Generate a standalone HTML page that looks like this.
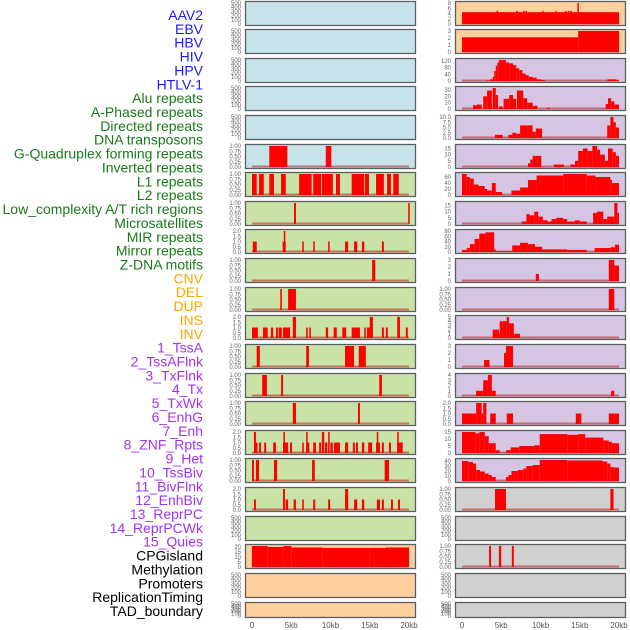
<!DOCTYPE html>
<html><head><meta charset="utf-8">
<style>
html,body{margin:0;padding:0;background:#fff;}
#wrap{position:relative;width:630px;height:630px;overflow:hidden;font-family:"Liberation Sans",sans-serif;}
svg{position:absolute;left:0;top:0;}
</style></head>
<body>
<div id="wrap">
<svg id="chart" width="630" height="630" xmlns="http://www.w3.org/2000/svg"></svg>
</div>
<script>
// ---- data ----
const trackLabels = ["AAV2","EBV","HBV","HIV","HPV","HTLV-1","Alu repeats","A-Phased repeats","Directed repeats","DNA transposons","G-Quadruplex forming repeats","Inverted repeats","L1 repeats","L2 repeats","Low_complexity A/T rich regions","Microsatellites","MIR repeats","Mirror repeats","Z-DNA motifs","CNV","DEL","DUP","INS","INV","1_TssA","2_TssAFlnk","3_TxFlnk","4_Tx","5_TxWk","6_EnhG","7_Enh","8_ZNF_Rpts","9_Het","10_TssBiv","11_BivFlnk","12_EnhBiv","13_ReprPC","14_ReprPCWk","15_Quies","CPGisland","Methylation","Promoters","ReplicationTiming","TAD_boundary"];
const labelColors = ["#1a1aff","#1a1aff","#1a1aff","#1a1aff","#1a1aff","#1a1aff","#1a7a1a","#1a7a1a","#1a7a1a","#1a7a1a","#1a7a1a","#1a7a1a","#1a7a1a","#1a7a1a","#1a7a1a","#1a7a1a","#1a7a1a","#1a7a1a","#1a7a1a","#ffa500","#ffa500","#ffa500","#ffa500","#ffa500","#a033f0","#a033f0","#a033f0","#a033f0","#a033f0","#a033f0","#a033f0","#a033f0","#a033f0","#a033f0","#a033f0","#a033f0","#a033f0","#a033f0","#a033f0","#000","#000","#000","#000","#000"];
const xTicks = [0,5,10,15,20];
const xTickLabels = ["0","5kb","10kb","15kb","20kb"];
const T500 = [0,100,200,300,400,500];
const T1 = [0,0.25,0.5,0.75,1];
const T2 = [0,0.5,1,1.5,2];
const leftTicks = [T500,T500,T500,T500,T500,T1,T1,T1,T2,T1,T1,T2,T1,T1,T1,T2,T1,T2,T500,[0,5,10,15,20],T500,T500];
const rightTicks = [[0,2,4,6,8],[0,1,2,3],[0,40,80,120],[0,10,20,30],[0,2.5,5,7.5,10],[0,5,10,15],[0,20,40,60],[0,5,10,15],[0,20,40,60,80],[0,1,2,3],T1,[0,1,2,3,4,5],[0,1,2,3],[0,1,2,3,4],T2,[0,5,10,15],[0,10,20,30,40],T1,T500,T1,T500,T500];
const leftBg = ["#c6e3ea","#c6e3ea","#c6e3ea","#c6e3ea","#c6e3ea","#c6e3ea","#c9e2a6","#c9e2a6","#c9e2a6","#c9e2a6","#c9e2a6","#c9e2a6","#c9e2a6","#c9e2a6","#c9e2a6","#c9e2a6","#c9e2a6","#c9e2a6","#c9e2a6","#ffcf9e","#ffcf9e","#ffcf9e"];
const rightBg = ["#ffcf9e","#ffcf9e","#d5c5e2","#d5c5e2","#d5c5e2","#d5c5e2","#d5c5e2","#d5c5e2","#d5c5e2","#d5c5e2","#d5c5e2","#d5c5e2","#d5c5e2","#d5c5e2","#d5c5e2","#d5c5e2","#d5c5e2","#d0d0d0","#d0d0d0","#d0d0d0","#d0d0d0","#d0d0d0"];
// intervals: [startKb, endKb, value]
const leftData = [
 [],[],[],[],[],
 [[2.2,4.5,1],[9.4,10.1,1]],
 [[0,0.6,1],[0.9,1.5,1],[2.2,2.8,1],[3.7,4.3,1],[6,7.6,1],[7.8,8.8,1],[8.9,10.3,1],[10.7,11.2,1],[12.7,14.3,1],[14.4,14.9,1],[15.8,16.8,1],[17.2,17.7,1],[18,18.7,1]],
 [[5.35,5.6,1],[19.9,20.1,1]],
 [[0.1,0.6,1],[3.9,4.3,1],[4.05,4.15,2],[6.4,6.6,1],[7.8,8.0,1],[9.7,9.9,1],[11.85,12.25,1],[13,13.4,1],[14,14.3,1],[16.55,16.8,1]],
 [[15.3,15.7,1]],
 [[3.6,3.8,1],[4.6,5.6,1]],
 [[0,0.75,1],[1.4,2.0,1],[2.4,2.7,1],[3.05,3.3,1],[3.4,3.8,1],[3.95,4.85,1],[5.2,5.6,2],[6.9,7.1,1],[7.3,7.5,1],[9.4,9.7,1],[10.4,10.8,1],[11.5,12.0,1],[12.7,13.75,1],[14.3,14.5,1],[14.65,15.4,1],[15.0,15.4,2],[16.55,16.8,1],[17.05,17.3,1],[18.5,18.85,2],[19.6,19.85,1]],
 [[0.6,1.0,1],[6.9,7.25,1],[11.85,13.0,1],[13.6,14.5,1]],
 [[1.3,1.9,1],[3.7,3.95,1],[16.2,16.55,1]],
 [[5.2,5.6,1],[13.5,13.75,1]],
 [[0.25,0.7,1],[0.25,0.5,2],[0.9,1.15,1],[1.55,1.8,1],[2.7,3.05,1],[3.95,4.6,1],[4.0,4.1,2],[4.85,5.1,1],[6.4,6.6,1],[6.9,7.3,1],[6.9,7.0,2],[7.8,8.15,1],[8.55,8.8,1],[8.9,9.2,2],[9.3,9.6,1],[9.7,9.9,2],[10.0,10.3,1],[10.45,11.2,1],[11.85,12.25,1],[12.85,13.1,1],[13.25,13.5,1],[14.0,14.3,1],[14.8,15.3,1],[15.8,16.3,1],[15.9,16.0,2],[16.55,16.8,1],[17.45,17.7,1],[18.5,19.2,1],[18.5,18.7,2]],
 [[0,0.25,1],[0.5,0.9,1],[2.8,3.2,1],[7.65,8.0,1],[16.9,17.45,1]],
 [[0.25,0.5,1],[3.95,4.2,2],[4.3,4.6,1],[5.3,5.6,1],[6.4,6.6,1],[7.8,8.05,1],[9.7,9.95,1],[11.85,12.25,2],[13,13.4,1],[14,14.3,1],[15.9,16.3,1],[16.55,16.8,1],[17.7,17.95,1],[18.6,18.85,1]],
 [],
 [[0,2,21],[2,4,20],[4,5,21],[5,9,19.5],[9,15,19],[15,17,19],[17,20,19.5]],
 [],[]
];
const rightData = [
 [[0,20,4.5],[4.4,4.55,5],[6.9,7.05,5],[7.8,7.95,5],[8.1,8.25,5],[10.2,10.35,5],[11.9,12.05,5],[13.1,13.25,5],[13.5,13.65,5],[13.8,13.95,5],[14.7,14.85,8]],
 [[0,14.8,2.1],[14.8,20,3]],
 [[3.1,3.6,3],[3.6,3.9,10],[3.9,4.1,25],[4.1,4.3,60],[4.3,4.5,90],[4.5,4.7,110],[4.7,5.6,125],[5.6,6.0,110],[6.0,6.5,105],[6.5,6.9,95],[6.9,7.3,75],[7.3,7.7,65],[7.7,8.1,45],[8.1,8.5,35],[8.5,9,25],[9,9.5,20],[9.5,10.1,10],[10.1,10.6,5],[18.5,19.0,10],[19.0,19.6,10],[19.6,20,5]],
 [[1.4,1.9,6],[1.9,2.5,7],[2.7,3.2,20],[3.2,3.8,29],[3.9,4.3,33],[4.3,4.6,22],[4.7,5.2,4],[5.3,6.0,16],[6.0,6.5,22],[6.5,6.9,16],[7.0,7.8,29],[7.8,8.3,17],[8.3,9.0,10],[9.0,9.6,5],[10.8,11.2,2],[18.3,18.6,8],[18.6,19.0,17],[19.0,19.4,12],[19.4,20,7]],
 [[4.2,5.2,1.5],[5.9,6.4,1.5],[6.4,6.9,2.5],[6.9,7.4,2],[7.4,8.4,6],[8.4,9.0,6],[9.0,9.4,3],[9.4,10.2,4.5],[18.5,18.9,6],[18.9,19.3,10],[19.3,19.6,7.5],[19.6,20,5]],
 [[8.4,8.7,3],[8.7,9.0,6],[9.0,10.1,9],[11.7,13,2],[13.8,14.4,2],[14.4,14.8,5],[14.8,15.4,13],[15.4,16.0,15],[16.0,16.6,13],[16.6,17.2,17],[17.2,17.6,14],[17.6,18.2,10],[18.2,18.6,5],[18.6,19.2,15],[19.2,19.6,12],[19.6,20,9]],
 [[0,0.6,70],[0.6,1.0,60],[1.0,1.5,55],[1.5,2.1,35],[2.1,2.9,30],[2.9,3.2,20],[3.2,3.8,15],[3.8,4.3,40],[4.3,5.1,10],[6.3,7.4,15],[7.4,8.4,25],[8.4,9.5,50],[9.5,12.9,65],[12.9,15.9,70],[15.9,17.0,65],[17.0,18.9,60],[18.9,19.1,50],[19.1,20,40]],
 [[7.6,8.2,2],[8.2,8.6,8],[8.6,9.2,7],[9.2,9.7,10],[9.7,10.3,6],[10.3,10.9,3],[10.9,11.4,2],[11.4,12.0,4],[12.0,12.9,5],[12.9,13.4,4],[13.4,14.4,2],[14.4,15.0,3],[15.0,15.9,2],[16.7,17.2,9],[17.2,18.0,10],[18.0,18.5,4],[18.5,19.4,6],[19.4,19.8,17],[19.8,20,9]],
 [[0,0.6,8],[0.6,1.0,15],[1.0,1.6,30],[1.6,2.2,50],[2.2,3.0,70],[3.0,4.1,75],[4.1,4.3,10],[4.3,5.2,3],[5.2,6.4,3],[6.4,7.4,25],[7.4,8.4,35],[8.4,9.3,30],[9.3,10.2,20],[10.2,13.4,10],[13.4,15.9,8],[16.9,18.9,15],[18.9,19.5,18],[19.5,20,28]],
 [[9.4,9.8,1],[18.7,19.4,3],[19.4,20,2.2]],
 [[18.7,19.4,1]],
 [[3.9,4.7,2],[4.7,4.8,1],[4.8,5.2,4],[5.2,5.7,4],[5.7,6.0,5],[6.0,6.6,3.5],[6.6,7.4,1]],
 [[2.8,3.5,1],[5.35,5.6,2],[5.6,6.5,3]],
 [[1.8,2.5,1],[2.5,2.7,1],[2.7,3.3,3],[3.3,3.8,4],[3.8,4.3,1],[19.0,19.4,1]],
 [[0,1.8,1],[1.8,2.5,2],[2.5,2.7,1],[2.7,3.1,2],[3.6,4.3,1],[5.7,6.5,1],[14.5,15.2,1],[18.7,20,1]],
 [[0,1.7,15],[1.7,2.2,14],[2.2,2.9,15],[2.9,3.4,12],[3.4,4.3,7],[4.3,4.8,2],[5.6,6.2,2],[6.2,7.3,4],[7.3,9.2,5],[9.2,9.9,5.5],[9.9,13.4,13.5],[13.4,14.8,13],[14.8,15.7,13.5],[15.7,18,11],[18,18.7,9],[18.7,19.1,8],[19.1,20,7]],
 [[0,0.8,40],[0.8,1.4,38],[1.4,1.8,35],[1.8,2.3,22],[2.3,2.9,19],[2.9,3.4,15],[3.4,3.8,12],[3.8,4.3,8],[5.6,5.9,8],[5.9,6.3,12],[6.3,7.1,20],[7.1,7.8,22],[7.8,8.2,25],[8.2,9.0,30],[9.0,9.9,32],[9.9,13.4,42],[13.4,17.9,41],[17.9,18.5,39],[18.5,18.9,35],[18.9,19.3,28],[19.3,20,27]],
 [[4.2,5.6,1],[18.9,19.3,1]],
 [],
 [[3.45,3.7,1],[4.7,5.0,1],[6.35,6.6,1]],
 [],[]
];
// ---- layout ----
const rowTops = [];
for (let i=0;i<22;i++) rowTops.push(Math.round(0.5 + i*28.62));
const NS="http://www.w3.org/2000/svg";
const svg=document.getElementById('chart');
function mk(tag,attrs,parent){const e=document.createElementNS(NS,tag);for(const k in attrs)e.setAttribute(k,attrs[k]);(parent||svg).appendChild(e);return e;}
const PX_PER_KB = 7.85;
function xScale(kb, side){return (side===0?252:462) + kb*PX_PER_KB;}
function fmt(v,ticks){const frac=ticks.some(t=>t%1!==0);if(!frac)return String(v);const two=ticks.some(t=>(t*100)%50!==0&&(t*10)%1!==0);return two?v.toFixed(2):v.toFixed(1);}
// labels
const LT=15, LS=(611-15)/43;
trackLabels.forEach((t,i)=>{
  const e=mk('text',{x:203,y:LT+LS*i+5,'text-anchor':'end','font-size':'14',fill:labelColors[i],'font-family':'Liberation Sans, sans-serif'});
  e.textContent=t;
  
  
});
function drawPanel(side,i){
  const top=rowTops[i], h=(i===21)?16:25, bottom=top+h;
  const x0= side===0?245:455, w=171;
  const g=mk('g',{});
  
  
  mk('rect',{x:x0,y:top,width:w,height:h,fill:side===0?leftBg[i]:rightBg[i]},g);
  const ticks=side===0?leftTicks[i]:rightTicks[i];
  const data=side===0?leftData[i]:rightData[i];
  let ymax=ticks[ticks.length-1];
  data.forEach(d=>{if(d[2]>ymax)ymax=d[2];});
  const yS=v=>bottom-2-(v/ymax)*(h-4);
  if(data.length){
    const bl=mk('line',{x1:xScale(0,side),x2:xScale(20,side),y1:yS(0)-0.5,y2:yS(0)-0.5,stroke:'rgba(190,30,30,0.55)','stroke-width':2},g);
    
    
  }
  data.forEach(d=>{
    const xa=xScale(d[0],side), xb=xScale(d[1],side);
    const r=mk('rect',{x:xa,y:yS(d[2]),width:Math.max(1.5,xb-xa),height:yS(0)-yS(d[2]),fill:'#ff0000'},g);
    
    
  });
  mk('rect',{x:x0+0.5,y:top+0.5,width:w-1,height:h-1,fill:'none',stroke:'#5a5f62','stroke-width':1.3},g);
  ticks.forEach(t=>{
    const tx=mk('text',{x:side===0?241:451,y:yS(t)+2,'text-anchor':'end','font-size':'6','fill':'#666','font-family':'Liberation Sans, sans-serif'},g);
    tx.textContent=fmt(t,ticks);
    
    
  });
}
for(let i=0;i<22;i++){drawPanel(0,i);drawPanel(1,i);}
[0,1].forEach(side=>{
  xTicks.forEach((t,j)=>{
    const tx=mk('text',{x:xScale(t,side),y:628,'text-anchor':'middle','font-size':'8',fill:'#555','font-family':'Liberation Sans, sans-serif'});
    tx.textContent=xTickLabels[j];
    
    
  });
});
</script>
</body></html>
